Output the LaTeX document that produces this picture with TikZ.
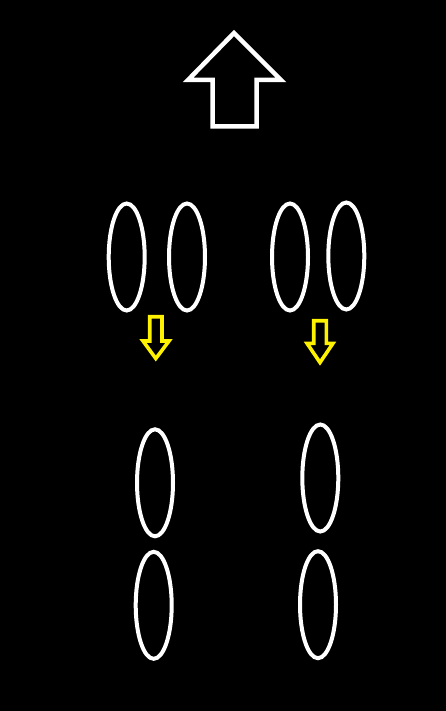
\documentclass[tikz,border=0pt]{standalone}
\usetikzlibrary{shapes.geometric}
\begin{document}
\begin{tikzpicture}[x=1pt,y=-1pt,
  oval/.style={ellipse,draw=white,line width=4pt,minimum width=36pt,minimum height=107pt,inner sep=0pt},
  bigarrow/.style={draw=white,line width=4.5pt,line join=miter},
  smallarrow/.style={draw=yellow,line width=3.6pt,line join=miter}]
\fill[black] (0,0) rectangle (446,711);
\useasboundingbox (0,0) rectangle (446,711);
% top up arrow
\draw[bigarrow] (234,33) -- (281,80) -- (256.5,80) -- (256.5,126.5) -- (212.5,126.5) -- (212.5,80) -- (188,80) -- cycle;
% top ellipses
\node[oval] (e1) at (126.7,257) {};
\node[oval] (e2) at (187,257) {};
\node[oval] (e3) at (290,257) {};
\node[oval] (e4) at (346.3,256) {};
% yellow down arrows
\draw[smallarrow] (149.7,316.7) -- (162,316.7) -- (162,341) -- (169,341) -- (155.8,358.5) -- (143,341) -- (149.7,341) -- cycle;
\draw[smallarrow] (313.7,320.7) -- (326.3,320.7) -- (326.3,343.3) -- (333,343.3) -- (320,362.5) -- (307,343.3) -- (313.7,343.3) -- cycle;
% bottom ellipses
\node[oval] (e5) at (155,482.8) {};
\node[oval] (e6) at (153.7,605.3) {};
\node[oval] (e7) at (320.3,478) {};
\node[oval] (e8) at (318,604.7) {};
\end{tikzpicture}
\end{document}
